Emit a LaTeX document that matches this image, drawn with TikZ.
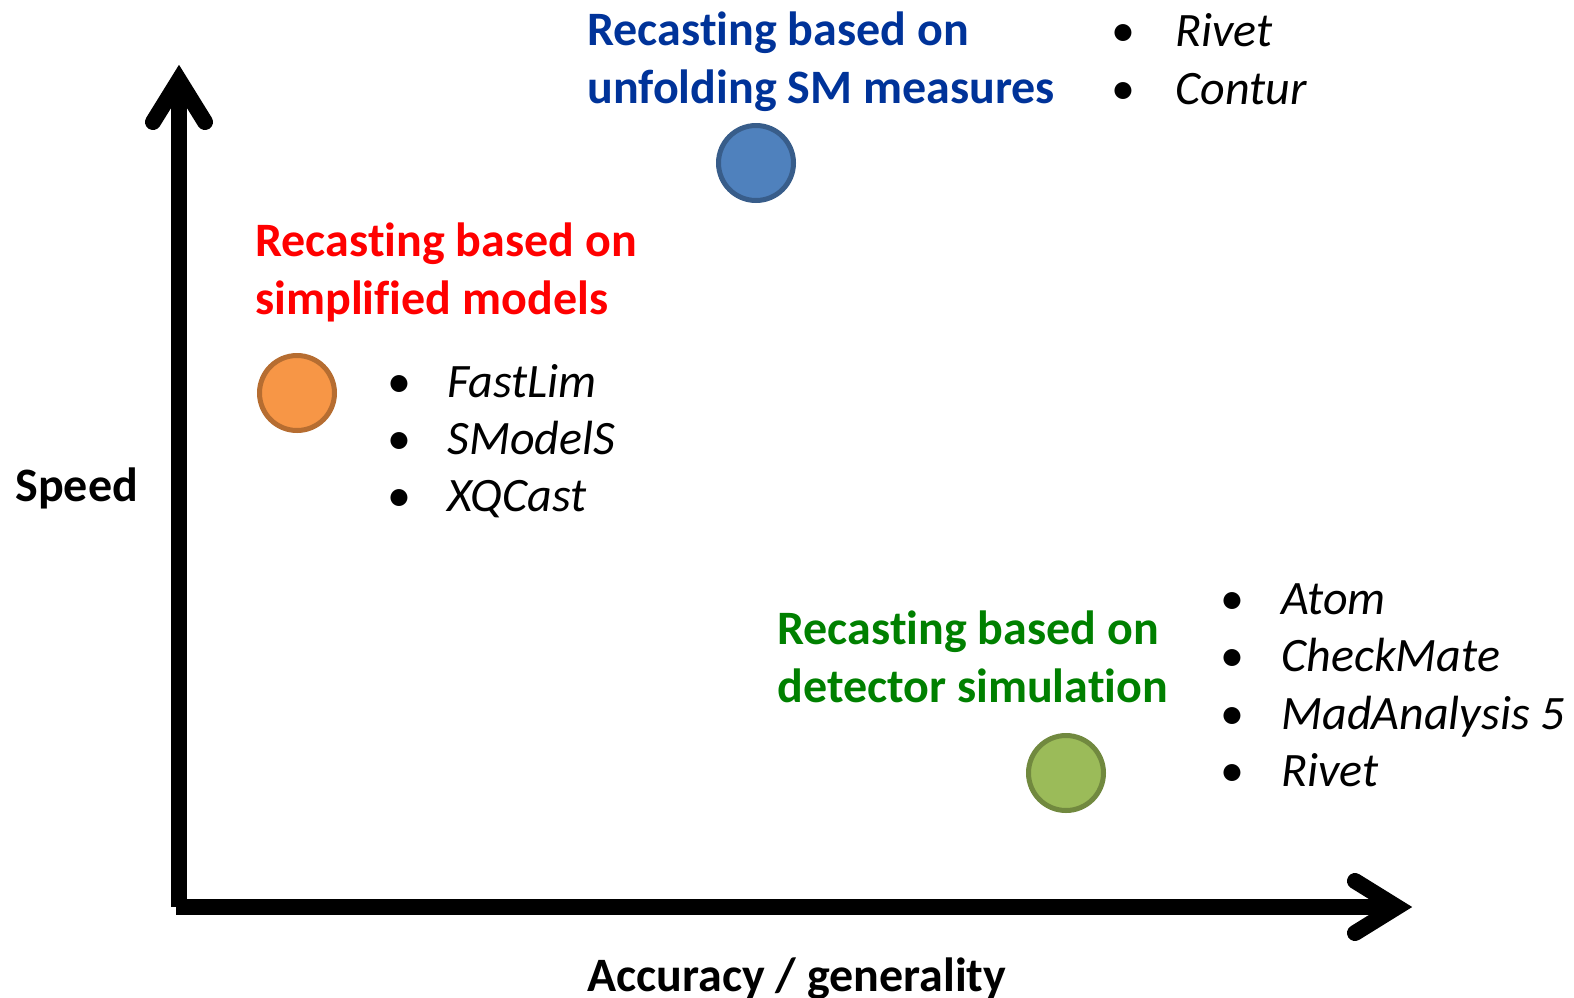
\documentclass[tikz,border=0pt]{standalone}
\usepackage{fontspec}
\setmainfont{Carlito}[Ligatures={NoCommon}]
\usetikzlibrary{calc}

\definecolor{unfoldblue}{HTML}{003399}
\definecolor{detgreen}{HTML}{008000}
\definecolor{blobblue}{HTML}{4F81BD}
\definecolor{blobblueline}{HTML}{385D8A}
\definecolor{bloborange}{HTML}{F79646}
\definecolor{bloborangeline}{HTML}{B66D31}
\definecolor{blobgreen}{HTML}{9BBB59}
\definecolor{blobgreenline}{HTML}{71893F}

\begin{document}
\begin{tikzpicture}[x=0.5pt,y=-0.5pt,
  title/.style={anchor=base west, inner sep=0pt, align=left,
    font=\fontsize{24}{29}\selectfont\bfseries},
  item/.style={anchor=base west, inner sep=0pt, font=\fontsize{24}{29}\selectfont\itshape},
  bul/.style={anchor=base, inner sep=0pt, font=\fontsize{24}{29}\selectfont},
  blob/.style={circle, inner sep=0pt, minimum size=37.5pt, line width=2.5pt},
  axisline/.style={line width=8pt},
  axistip/.style={line width=8pt, line cap=round, line join=miter}]
\useasboundingbox (0,0) rectangle (1574,997);

% Draw axes, with open arrow heads.
\coordinate (origin) at (179,907);
\coordinate (ytop) at (179,80);
\coordinate (xend) at (1397,907);
\draw[axisline] (origin) -- (ytop);
\draw[axisline] (176,907) -- (xend);
\draw[axistip] (153,122) -- (ytop) -- (205,122);
\draw[axistip] (1355,881) -- (xend) -- (1355,933);

\node[anchor=base west, inner sep=0pt, font=\fontsize{24}{29}\selectfont\bfseries]
  (speed) at (15,501) {Speed};
\node[anchor=base west, inner sep=0pt, font=\fontsize{24}{29}\selectfont\bfseries]
  (acc) at (587,991) {Accuracy / generality};

% unfolding SM measures
\node[blob, fill=blobblue, draw=blobblueline] (unfold) at (756,163) {};
\node[title, text=unfoldblue] (unfoldtxt) at (587,103)
  {Recasting based on\\unfolding SM measures};
\node[bul] (ub1) at (1123,46) {\textbullet};
\node[bul] (ub2) at (1123,104) {\textbullet};
\node[item] (rivet) at (1175,46) {Rivet};
\node[item] (contur) at (1175,104) {Contur};

% simplified models
\node[blob, fill=bloborange, draw=bloborangeline] (simpl) at (297,393) {};
\node[title, text=red] (simpltxt) at (255,314)
  {Recasting based on\\simplified models};
\node[bul] (sb1) at (399,397) {\textbullet};
\node[bul] (sb2) at (399,454) {\textbullet};
\node[bul] (sb3) at (399,511) {\textbullet};
\node[item] (fastlim) at (447,397) {FastLim};
\node[item] (smodels) at (447,454) {SModelS};
\node[item] (xqcast) at (447,511) {XQCast};

% detector simulation
\node[blob, fill=blobgreen, draw=blobgreenline] (detect) at (1066,773) {};
\node[title, text=detgreen] (detecttxt) at (777,702)
  {Recasting based on\\detector simulation};
\node[bul] (db1) at (1232,614) {\textbullet};
\node[bul] (db2) at (1232,671) {\textbullet};
\node[bul] (db3) at (1232,729) {\textbullet};
\node[bul] (db4) at (1232,786) {\textbullet};
\node[item] (atom) at (1281,614) {Atom};
\node[item] (checkmate) at (1281,671) {CheckMate};
\node[item] (madanalysis) at (1281,729) {MadAnalysis 5};
\node[item] (rivetb) at (1281,786) {Rivet};
\end{tikzpicture}
\end{document}
